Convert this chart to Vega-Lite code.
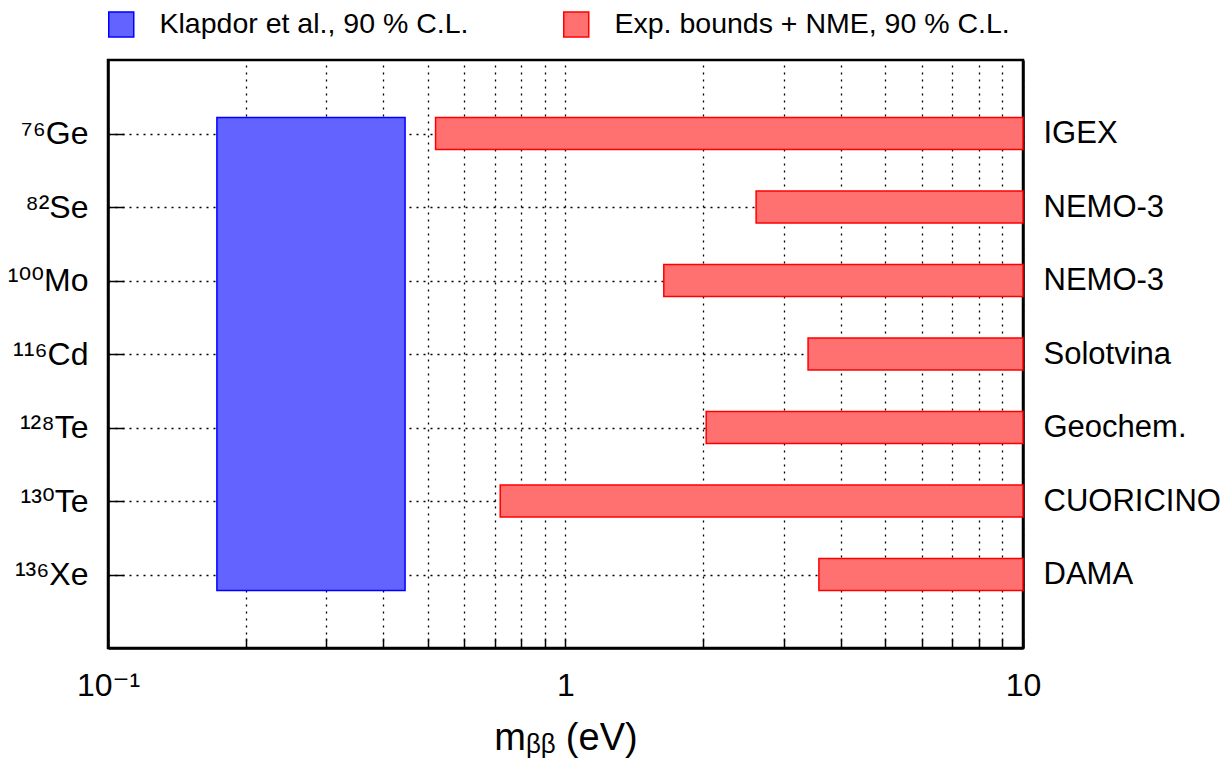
{
  "$schema": "https://vega.github.io/schema/vega-lite/v6.json",
  "width": 915,
  "height": 588,
  "autosize": "none",
  "padding": {"left": 108, "top": 60, "right": 207, "bottom": 117},
  "background": "white",
  "config": {
    "font": "Liberation Sans",
    "view": {"stroke": "#000", "strokeWidth": 2.5},
    "axis": {
      "zindex": 1,
      "domainColor": "#000",
      "domainWidth": 2.5,
      "tickColor": "#000",
      "tickWidth": 1.5,
      "gridColor": "#000",
      "gridDash": [2, 5],
      "gridWidth": 1.3,
      "gridOpacity": 1,
      "labelColor": "#000",
      "titleColor": "#000",
      "labelFont": "Liberation Sans, DejaVu Sans",
      "titleFont": "Liberation Sans, DejaVu Sans",
      "labelFontWeight": "normal",
      "titleFontWeight": "normal"
    },
    "legend": {
      "labelFont": "Liberation Sans",
      "labelColor": "#000",
      "labelLimit": 600
    }
  },
  "layer": [
    {
      "data": {
        "values": [
          {"src": "Klapdor et al., 90 % C.L.", "lo": 0.173, "hi": 0.446, "top": "⁷⁶Ge", "bottom": "¹³⁶Xe"}
        ]
      },
      "mark": {"type": "rect", "yOffset": -16, "y2Offset": 16, "strokeWidth": 1.5},
      "encoding": {
        "x": {
          "field": "lo",
          "type": "quantitative",
          "scale": {"type": "log", "domain": [0.1, 10], "nice": false},
          "axis": {
            "values": [0.1, 0.2, 0.3, 0.4, 0.5, 0.6, 0.7, 0.8, 0.9, 1, 2, 3, 4, 5, 6, 7, 8, 9, 10],
            "labelExpr": "datum.value == 0.1 ? '10⁻¹' : (datum.value == 1 ? '1' : (datum.value == 10 ? '10' : ''))",
            "grid": true,
            "tickSize": -10,
            "labelPadding": 32,
            "labelFontSize": 32,
            "labelFlush": false,
            "labelOverlap": false,
            "title": "mᵦᵦ (eV)",
            "titleFontSize": 38,
            "titlePadding": 18
          }
        },
        "x2": {"field": "hi"},
        "y": {
          "field": "top",
          "type": "nominal",
          "scale": {"type": "point", "padding": 1, "domain": ["⁷⁶Ge", "⁸²Se", "¹⁰⁰Mo", "¹¹⁶Cd", "¹²⁸Te", "¹³⁰Te", "¹³⁶Xe"]},
          "axis": {
            "orient": "left",
            "title": null,
            "grid": true,
            "tickSize": -16,
            "labelPadding": 36,
            "labelFontSize": 32
          }
        },
        "y2": {"field": "bottom"},
        "fill": {
          "field": "src",
          "type": "nominal",
          "scale": {"domain": ["Klapdor et al., 90 % C.L.", "Exp. bounds + NME, 90 % C.L."], "range": ["#6363ff", "#ff7070"]},
          "legend": {
            "title": null,
            "orient": "none",
            "legendX": -1,
            "legendY": -50,
            "direction": "horizontal",
            "columns": 2,
            "gridAlign": "all",
            "columnPadding": 5,
            "symbolType": "square",
            "symbolSize": 625,
            "symbolStrokeWidth": 1.5,
            "labelFontSize": 28.5,
            "labelOffset": 24,
            "labelLimit": 600,
            "padding": 0
          }
        },
        "stroke": {
          "field": "src",
          "type": "nominal",
          "scale": {"domain": ["Klapdor et al., 90 % C.L.", "Exp. bounds + NME, 90 % C.L."], "range": ["#0000ff", "#ff0000"]},
          "legend": {
            "title": null,
            "orient": "none",
            "legendX": -1,
            "legendY": -50,
            "direction": "horizontal",
            "columns": 2,
            "gridAlign": "all",
            "columnPadding": 5,
            "symbolType": "square",
            "symbolSize": 625,
            "symbolStrokeWidth": 1.5,
            "labelFontSize": 28.5,
            "labelOffset": 24,
            "labelLimit": 600,
            "padding": 0
          }
        }
      }
    },
    {
      "data": {
        "values": [
          {"iso": "⁷⁶Ge", "exp": "IGEX", "lo": 0.52, "hi": 10, "src": "Exp. bounds + NME, 90 % C.L."},
          {"iso": "⁸²Se", "exp": "NEMO-3", "lo": 2.61, "hi": 10, "src": "Exp. bounds + NME, 90 % C.L."},
          {"iso": "¹⁰⁰Mo", "exp": "NEMO-3", "lo": 1.64, "hi": 10, "src": "Exp. bounds + NME, 90 % C.L."},
          {"iso": "¹¹⁶Cd", "exp": "Solotvina", "lo": 3.39, "hi": 10, "src": "Exp. bounds + NME, 90 % C.L."},
          {"iso": "¹²⁸Te", "exp": "Geochem.", "lo": 2.03, "hi": 10, "src": "Exp. bounds + NME, 90 % C.L."},
          {"iso": "¹³⁰Te", "exp": "CUORICINO", "lo": 0.72, "hi": 10, "src": "Exp. bounds + NME, 90 % C.L."},
          {"iso": "¹³⁶Xe", "exp": "DAMA", "lo": 3.58, "hi": 10, "src": "Exp. bounds + NME, 90 % C.L."}
        ]
      },
      "mark": {"type": "bar", "size": 32, "strokeWidth": 1.5},
      "encoding": {
        "x": {"field": "lo", "type": "quantitative"},
        "x2": {"field": "hi"},
        "y": {
          "field": "iso",
          "type": "nominal",
          "axis": {
            "orient": "right",
            "title": null,
            "grid": false,
            "tickSize": -16,
            "labelPadding": 36,
            "labelFontSize": 31,
            "labelExpr": "['IGEX','NEMO-3','NEMO-3','Solotvina','Geochem.','CUORICINO','DAMA'][indexof(['⁷⁶Ge','⁸²Se','¹⁰⁰Mo','¹¹⁶Cd','¹²⁸Te','¹³⁰Te','¹³⁶Xe'], datum.value)]"
          }
        },
        "fill": {"field": "src", "type": "nominal"},
        "stroke": {"field": "src", "type": "nominal"}
      }
    }
  ],
  "resolve": {"axis": {"y": "independent"}}
}
